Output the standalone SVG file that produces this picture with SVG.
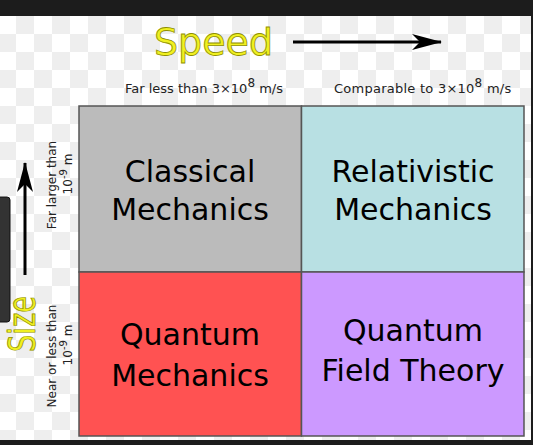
<svg xmlns="http://www.w3.org/2000/svg" width="533" height="445" viewBox="0 0 533 445">
<defs>
<pattern id="chk" x="-2" y="-2" width="36" height="36" patternUnits="userSpaceOnUse">
<rect width="36" height="36" fill="#ffffff"/>
<rect width="18" height="18" fill="#eeeeee"/>
<rect x="18" y="18" width="18" height="18" fill="#eeeeee"/>
</pattern>
<marker id="ah" viewBox="0 0 30 16" refX="29" refY="8" markerWidth="30" markerHeight="16" markerUnits="userSpaceOnUse" orient="auto">
<path d="M0,0 L30,8 L0,16 L8,8 Z" fill="#000"/>
</marker>
<style>
.big{font-family:"DejaVu Sans",sans-serif;font-size:38px;fill:#f0f020;stroke:#8f8f00;stroke-width:0.8px}
.sm{font-family:"DejaVu Sans",sans-serif;font-size:13px;fill:#222}
.lab{font-family:"DejaVu Sans",sans-serif;font-size:30px;fill:#000;text-anchor:middle}
.cell{stroke:#555;stroke-width:1.5px}
.rot{font-family:"DejaVu Sans",sans-serif;font-size:12px;fill:#222;text-anchor:middle}
</style>
</defs>
<rect x="0" y="0" width="533" height="445" fill="url(#chk)"/>
<rect x="0" y="0" width="533" height="16" fill="#1c1c1c"/>
<rect x="531" y="0" width="2" height="445" fill="#1c1c1c"/>
<rect x="0" y="440" width="533" height="5" fill="#1c1c1c"/>

<g id="speed-label">
<text class="big" x="154" y="55">Speed</text>
<text class="sm" x="125" y="93">Far less than 3×10<tspan dy="-6" font-size="12">8</tspan><tspan dy="6"> m/s</tspan></text>
<text class="sm" x="334" y="93" letter-spacing="0.25">Comparable to 3×10<tspan dy="-6" font-size="12">8</tspan><tspan dy="6"> m/s</tspan></text>
</g>

<g id="left-tab">
<rect x="-4" y="197" width="14" height="125" rx="3" fill="#333" stroke="#111" stroke-width="1"/>
</g>

<g id="size-label">
<text class="big" transform="translate(35,352) rotate(-90)" textLength="56" lengthAdjust="spacingAndGlyphs">Size</text>
<text class="rot" transform="translate(56,185) rotate(-90)">Far larger than</text>
<text class="rot" transform="translate(72,174) rotate(-90)">10<tspan dy="-5" font-size="10">-9</tspan><tspan dy="5"> m</tspan></text>
<text class="rot" transform="translate(56,356) rotate(-90)">Near or less than</text>
<text class="rot" transform="translate(72,345) rotate(-90)">10<tspan dy="-5" font-size="10">-9</tspan><tspan dy="5"> m</tspan></text>
</g>

<g id="classical">
<rect class="cell" x="79" y="106" width="222.5" height="166" fill="#bbbbbb"/>
<text class="lab" x="190" y="182">Classical</text>
<text class="lab" x="190" y="220">Mechanics</text>
</g>
<g id="relativistic">
<rect class="cell" x="301.5" y="106" width="222.5" height="166" fill="#b8e0e3"/>
<text class="lab" x="413" y="182">Relativistic</text>
<text class="lab" x="413" y="220">Mechanics</text>
</g>
<g id="quantum">
<rect class="cell" x="79" y="272" width="222.5" height="164" fill="#ff5252"/>
<text class="lab" x="190" y="345">Quantum</text>
<text class="lab" x="190" y="386">Mechanics</text>
</g>
<g id="qft">
<rect class="cell" x="301.5" y="272" width="222.5" height="164" fill="#cc99ff"/>
<text class="lab" x="413" y="341">Quantum</text>
<text class="lab" x="413" y="381">Field Theory</text>
</g>

<g id="connectors">
<line x1="293" y1="42" x2="441" y2="42" stroke="#000" stroke-width="3" marker-end="url(#ah)"/>
<line x1="25" y1="275" x2="25" y2="163" stroke="#000" stroke-width="3" marker-end="url(#ah)"/>
</g>
</svg>
